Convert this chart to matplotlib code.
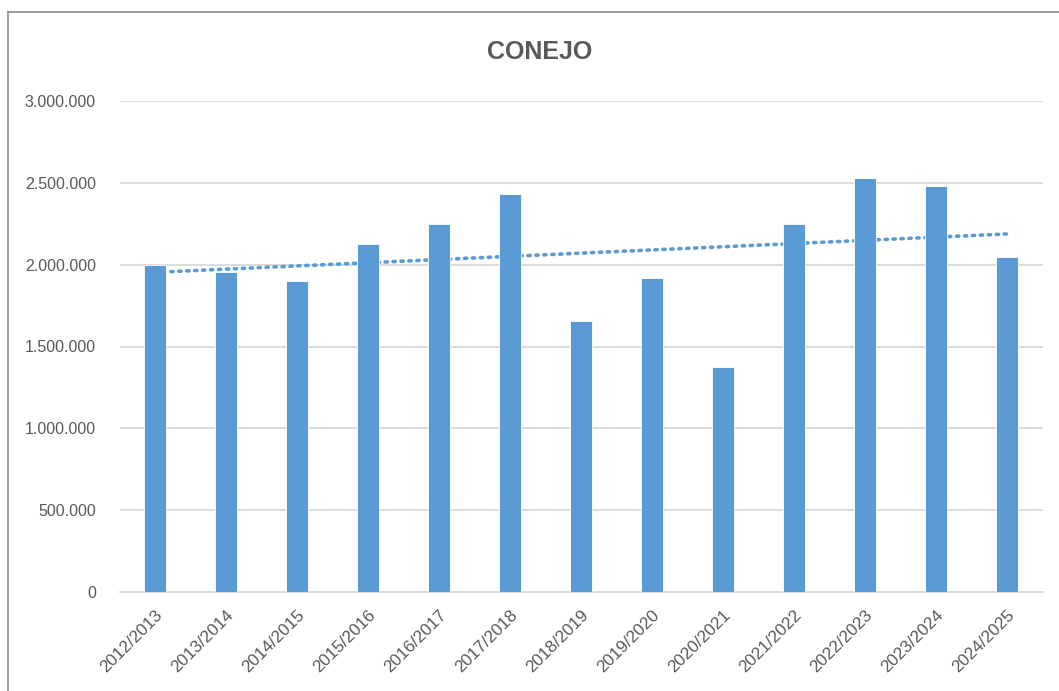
import numpy as np
import matplotlib
matplotlib.use("Agg")
import matplotlib.pyplot as plt
from matplotlib.lines import Line2D
from matplotlib.ticker import FuncFormatter

plt.rcParams['font.family'] = ['Liberation Sans', 'DejaVu Sans']

# Data
seasons = ["2012/2013", "2013/2014", "2014/2015", "2015/2016", "2016/2017",
           "2017/2018", "2018/2019", "2019/2020", "2020/2021", "2021/2022",
           "2022/2023", "2023/2024", "2024/2025"]
values = [1998000, 1955000, 1900000, 2126000, 2248000, 2432000, 1656000,
          1918000, 1375000, 2250000, 2530000, 2481000, 2047000]
yticks = [0, 500000, 1000000, 1500000, 2000000, 2500000, 3000000]

bar_color = "#5b9bd5"
text_color = "#595959"
grid_color = "#d9d9d9"

W, H = 1059, 691
fig = plt.figure(figsize=(W / 100, H / 100), dpi=100)
ax = fig.add_axes([119.5 / W, 1 - 592 / H, (1042.5 - 119.5) / W, (592 - 101) / H])

x = np.arange(len(seasons))
ax.bar(x, values, width=0.31, color=bar_color, edgecolor="white",
       linewidth=0.6, zorder=3)

# linear trend line (behind the bars)
slope, intercept = np.polyfit(x, values, 1)
ax.plot(x, slope * x + intercept, linestyle=(0, (0.6, 1.6)), color=bar_color,
        linewidth=2.6, dash_capstyle="round", zorder=2)

ax.set_xlim(-0.5, len(seasons) - 0.5)
ax.set_ylim(0, 3000000)
ax.set_yticks(yticks)
ax.yaxis.set_major_formatter(FuncFormatter(lambda v, p: f"{int(v):,}".replace(",", ".")))
ax.grid(axis="y", color=grid_color, linewidth=1.3, zorder=0)
ax.set_axisbelow(True)

ax.set_xticks(x)
ax.set_xticklabels(seasons, rotation=45, ha="right", rotation_mode="anchor")
ax.tick_params(axis="both", length=0, colors=text_color)
ax.tick_params(axis="y", pad=17, labelsize=11.5)
ax.tick_params(axis="x", pad=11, labelsize=12.3)

for s in ["top", "right", "left"]:
    ax.spines[s].set_visible(False)
ax.spines["bottom"].set_color(grid_color)
ax.spines["bottom"].set_linewidth(1.3)

fig.text(540 / W, 1 - 52 / H, "CONEJO", ha="center", va="center",
         fontsize=18, fontweight="bold", color=text_color)

# outer chart frame (partially cropped)
fig.add_artist(Line2D([8 / W, 8 / W], [0, 1 - 12 / H], color="#8c8c8c", linewidth=1.2,
                      transform=fig.transFigure))
fig.add_artist(Line2D([8 / W, 1], [1 - 12 / H, 1 - 12 / H], color="#8c8c8c", linewidth=1.2,
                      transform=fig.transFigure))

fig.savefig("out.png", dpi=100, facecolor="white")
